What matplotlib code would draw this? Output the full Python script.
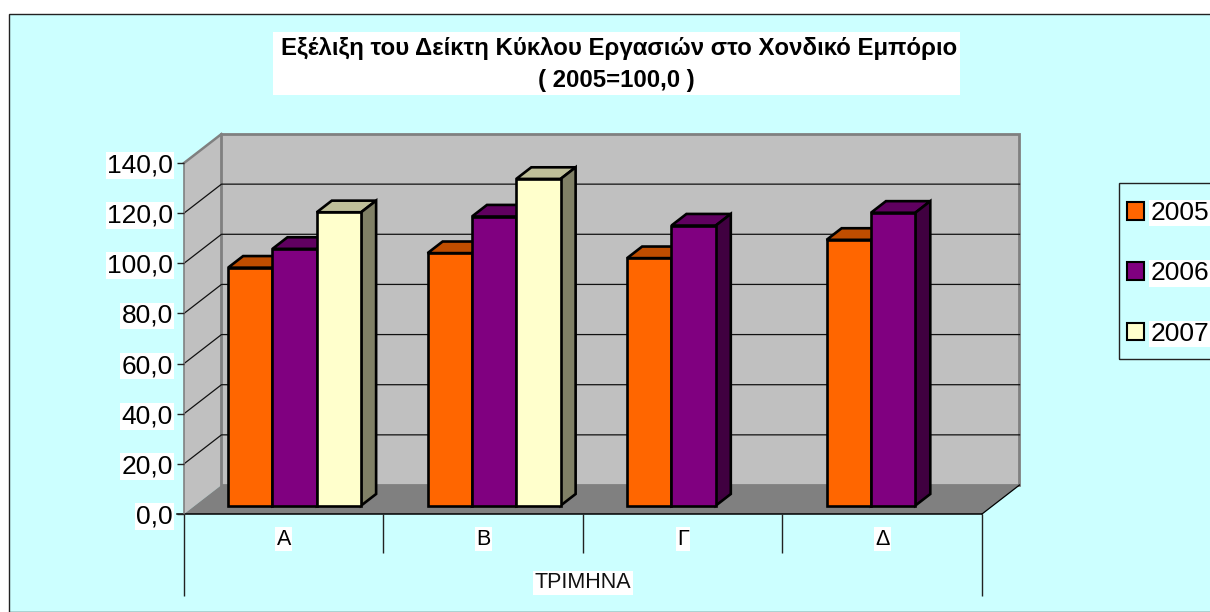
#!/usr/bin/env python
"""Wholesale trade turnover index, drawn as an Excel style 3D clustered column."""
import numpy as np
import matplotlib
matplotlib.use("Agg")
import matplotlib.pyplot as plt
from matplotlib.patches import Patch, Polygon, Rectangle

plt.rcParams["font.family"] = ["Liberation Sans", "DejaVu Sans"]

QUARTERS = ["Α", "Β", "Γ", "Δ"]
YEARS = ["2005", "2006", "2007"]
V2005 = [94.9, 100.7, 98.7, 106.0]
V2006 = [102.4, 115.3, 111.7, 116.8]
V2007 = [117.0, 130.3, np.nan, np.nan]
Y_TICKS = [0, 20, 40, 60, 80, 100, 120, 140]
Y_LABELS = ["0,0", "20,0", "40,0", "60,0", "80,0", "100,0", "120,0", "140,0"]
TITLE_1 = "Εξέλιξη του Δείκτη Κύκλου Εργασιών στο Χονδικό Εμπόριο"
TITLE_2 = "( 2005=100,0 )"
XLABEL = "ΤΡΙΜΗΝΑ"

W, H = 1210, 612
BG = "#CCFFFF"
WALL = "#C0C0C0"
FLOOR = "#808080"
# front, top, side colours per series
COLORS = [("#FF6600", "#BF4D00", "#803300"),
          ("#800080", "#600060", "#400040"),
          ("#FFFFCC", "#BFBF99", "#808066")]

# plot box in pixels
X0, X1, Y0, Y140 = 184, 982, 514, 163
PX_X = (X1 - X0) / 4.0
PX_Y = (Y0 - Y140) / 140.0
DEPTH_X, DEPTH_Y = 37.5 / PX_X, 29 / PX_Y  # full depth of the floor, data units
BAR_D0, BAR_D1 = 0.29, 0.69  # depth range the bars occupy
BAR_W = 1 / 4.5
EDGE = 1.9


def px_box(left, top, right, bottom):
    return [left / W, 1 - bottom / H, (right - left) / W, (bottom - top) / H]


def d(x, y, depth):
    """Project a point on the front plane back to a given depth."""
    return (x + depth * DEPTH_X, y + depth * DEPTH_Y)


fig = plt.figure(figsize=(W / 100, H / 100), dpi=100, facecolor="white")
fig.patches.append(Rectangle((9 / W, 0), 1.0, 1 - 14 / H, transform=fig.transFigure,
                             fc=BG, ec="#222222", lw=1.0, zorder=-2))

ax = fig.add_axes(px_box(X0, Y140, X1, Y0))
ax.patch.set_visible(False)
ax.set_xlim(0, 4)
ax.set_ylim(0, 140)

# walls and floor
ax.add_patch(Polygon([d(0, 0, 0), d(0, 0, 1), d(0, 140, 1), d(0, 140, 0)],
                     fc=WALL, ec="none", clip_on=False, zorder=1))
ax.add_patch(Polygon([d(0, 0, 1), d(4, 0, 1), d(4, 140, 1), d(0, 140, 1)],
                     fc=WALL, ec=FLOOR, lw=2.0, clip_on=False, zorder=1))
ax.add_patch(Polygon([d(0, 0, 0), d(4, 0, 0), d(4, 0, 1), d(0, 0, 1)],
                     fc=FLOOR, ec="none", clip_on=False, zorder=1.2))
ax.plot(*zip(d(4, 0, 0), d(4, 0, 1)), color="black", lw=0.9, clip_on=False, zorder=1.3)
ax.plot(*zip(d(0, 140, 0), d(0, 140, 1)), color=FLOOR, lw=1.8, clip_on=False, zorder=1.3)

# gridlines run along the side wall and the back wall
for v in Y_TICKS[1:-1]:
    ax.plot(*zip(d(0, v, 0), d(0, v, 1), d(4, v, 1)), color="#111111", lw=0.9,
            clip_on=False, zorder=1.1)

# columns
series = [V2005, V2006, V2007]
for q in range(len(QUARTERS)):
    for s, vals in enumerate(series):
        v = vals[q]
        if np.isnan(v):
            continue
        front, top, side = COLORS[s]
        left = q + 0.75 * BAR_W + s * BAR_W
        right = left + BAR_W
        z = 2 + q + s * 0.1
        lo_x, lo_y = d(left, 0, BAR_D0)
        ax.add_patch(Polygon([d(left, v, BAR_D0), d(right, v, BAR_D0),
                              d(right, v, BAR_D1), d(left, v, BAR_D1)],
                             fc=top, ec="black", lw=EDGE, joinstyle="miter",
                             clip_on=False, zorder=z))
        ax.add_patch(Polygon([d(right, 0, BAR_D0), d(right, v, BAR_D0),
                              d(right, v, BAR_D1), d(right, 0, BAR_D1)],
                             fc=side, ec="black", lw=EDGE, joinstyle="miter",
                             clip_on=False, zorder=z))
        ax.bar(lo_x, v, width=BAR_W, bottom=lo_y, align="edge", color=front,
               edgecolor="black", linewidth=EDGE, zorder=z + 0.01)

# axes furniture
for name in ("top", "right", "bottom"):
    ax.spines[name].set_visible(False)
ax.spines["left"].set_color(FLOOR)
ax.spines["left"].set_linewidth(1.2)
ax.spines["left"].set_zorder(1.4)
ax.set_yticks(Y_TICKS, Y_LABELS, fontsize=19)
ax.tick_params(axis="y", length=5, width=1.0, color="#222222", pad=3)
for t in ax.get_yticklabels():
    t.set_bbox(dict(fc="white", ec="none", pad=1.0))

ax.set_xticks(np.arange(len(QUARTERS)) + 0.5, QUARTERS, fontsize=15.5)
ax.tick_params(axis="x", length=0, pad=10.5)
for t in ax.get_xticklabels():
    t.set_bbox(dict(fc="white", ec="none", pad=1.0))

ax.plot([-7 / PX_X, 4], [0, 0], color="black", lw=1.1, clip_on=False, zorder=1.4)
ax.vlines([0, 4], -82 / PX_Y, 0, color="#222222", lw=1.0, clip_on=False)
ax.vlines([1, 2, 3], -39 / PX_Y, 0, color="#222222", lw=1.0, clip_on=False)

ax.set_xlabel(XLABEL, fontsize=15.5, color="#111111")
ax.xaxis.set_label_coords(0.5, -69 / (Y0 - Y140), transform=ax.transAxes)
ax.xaxis.label.set_verticalalignment("center")
ax.xaxis.label.set_bbox(dict(fc="white", ec="none", pad=1.0))

# title, box drawn on its own since the first line sits a little off its centre
fig.patches.append(Rectangle((273 / W, 1 - 95 / H), 687 / W, 63 / H,
                             transform=fig.transFigure, fc="white", ec="none", zorder=-1))
fig.text(619.5 / W, 1 - 48 / H, TITLE_1, ha="center", va="center", fontsize=17.3,
         fontweight="bold", color="black")
fig.text(616.5 / W, 1 - 81 / H, TITLE_2, ha="center", va="center", fontsize=17.3,
         fontweight="bold", color="black")

# legend, the frame runs past the right edge of the picture
fig.patches.append(Rectangle((1118.5 / W, 1 - 359 / H), 0.2, 176 / H,
                             transform=fig.transFigure, fc="none", ec="#222222",
                             lw=1.0, zorder=-1))
handles = [Patch(fc=c[0], ec="black", lw=1.5) for c in COLORS]
leg = ax.legend(handles, YEARS, loc="upper left", bbox_to_anchor=(1127 / W, 1 - 201 / H),
                bbox_transform=fig.transFigure, frameon=False, borderaxespad=0,
                borderpad=0, fontsize=19, handlelength=0.66, handleheight=0.66,
                handletextpad=0.22, labelspacing=1.38)
for t in leg.get_texts():
    t.set_bbox(dict(fc="white", ec="none", pad=1.0))

fig.savefig("out.png", dpi=100)
